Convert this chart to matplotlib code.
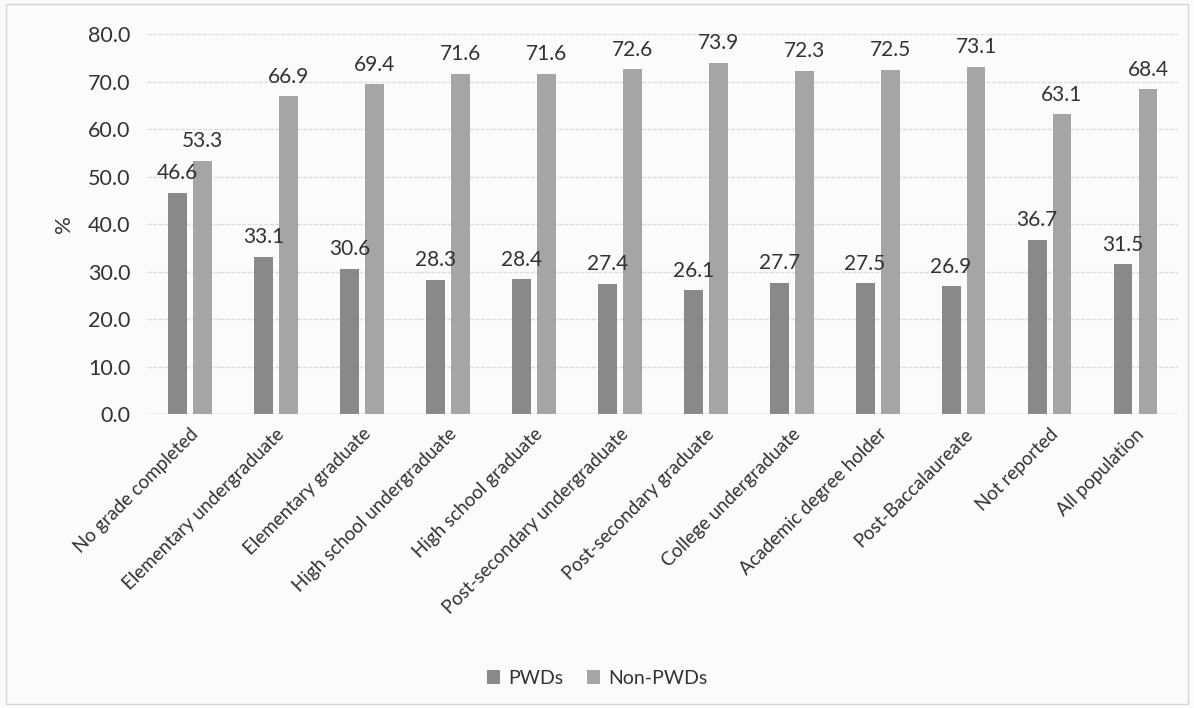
import numpy as np
import matplotlib.pyplot as plt

categories = ["No grade completed", "Elementary undergraduate", "Elementary graduate",
              "High school undergraduate", "High school graduate",
              "Post-secondary undergraduate", "Post-secondary graduate",
              "College undergraduate", "Academic degree holder",
              "Post-Baccalaureate", "Not reported", "All population"]
pwds = [46.6, 33.1, 30.6, 28.3, 28.4, 27.4, 26.1, 27.7, 27.5, 26.9, 36.7, 31.5]
non_pwds = [53.3, 66.9, 69.4, 71.6, 71.6, 72.6, 73.9, 72.3, 72.5, 73.1, 63.1, 68.4]

plt.rcParams['font.family'] = ['Lato', 'DejaVu Sans']

fig = plt.figure(figsize=(11.94, 7.08), dpi=100, facecolor='#fbfbfa')
ax = fig.add_axes([0.123, 0.415, 0.864, 0.537])
ax.set_facecolor('#fbfbfa')

x = np.arange(len(categories))
w = 0.22
b1 = ax.bar(x - 0.145, pwds, w, color='#898989', label='PWDs', zorder=3)
b2 = ax.bar(x + 0.145, non_pwds, w, color='#a5a5a5', label='Non-PWDs', zorder=3)

for bars, vals in ((b1, pwds), (b2, non_pwds)):
    for r, v in zip(bars, vals):
        ax.text(r.get_x() + r.get_width() / 2, v + 2.0, f"{v:.1f}",
                ha='center', va='bottom', fontsize=15, color='#333333')

ax.set_xlim(-0.5, len(categories) - 0.5)
ax.set_ylim(0, 80)
ax.set_yticks(np.arange(0, 81, 10))
ax.set_yticklabels([f"{t:.1f}" for t in range(0, 81, 10)])
ax.set_xticks(x)
ax.set_xticklabels(categories, rotation=45, ha='right', rotation_mode='anchor')
ax.tick_params(axis='x', length=0, labelsize=13.5, colors='#333333', pad=8)
ax.tick_params(axis='y', length=0, labelsize=15.5, colors='#333333', pad=12)
ax.set_ylabel('%', fontsize=16, color='#333333', labelpad=10)
ax.grid(axis='y', color='#dddddd', linewidth=1, linestyle=(0, (3, 1)), zorder=0)
for s in ax.spines.values():
    s.set_visible(False)
ax.axhline(0, color='#d0d0d0', linewidth=1, zorder=2)

fig.legend(loc='lower center', bbox_to_anchor=(0.5, 0.005), ncol=2, frameon=False,
           fontsize=14, handlelength=0.7, handleheight=0.7, columnspacing=1.2,
           handletextpad=0.4, labelcolor='#333333')

fig.patches.append(plt.Rectangle((0.005, 0.005), 0.99, 0.99, transform=fig.transFigure,
                                 fill=False, edgecolor='#d6d6d6', linewidth=1))

fig.savefig('out.png', dpi=100, facecolor=fig.get_facecolor())
